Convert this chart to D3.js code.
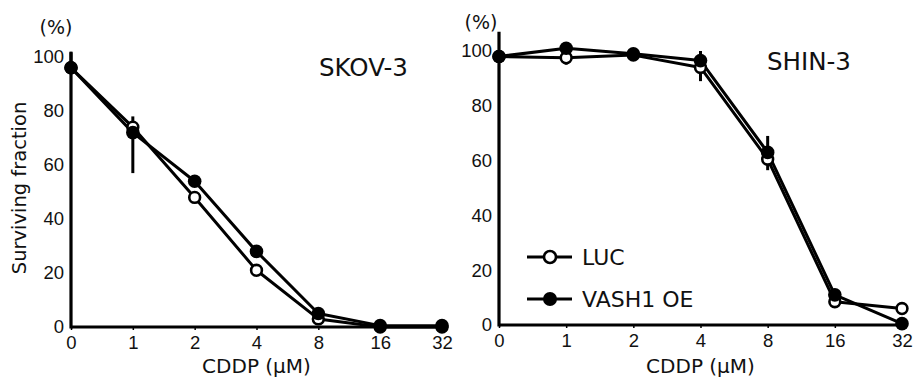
<!DOCTYPE html>
<html>
<head>
<meta charset="utf-8">
<script src="https://cdn.jsdelivr.net/npm/d3@7"></script>
<style>
  body { margin: 0; background: #fff; }
  svg { display: block; font-family: 'DejaVu Sans', Verdana, sans-serif; }
</style>
</head>
<body>
<div id="chart"></div>
<script>
const doses = ['0', '1', '2', '4', '8', '16', '32']
const yTicks = [0, 20, 40, 60, 80, 100]

// SKOV-3
const skovLuc = [96, 74, 48, 21, 3, 0, 0]
const skovVash = [96, 72, 54, 28, 5, 0.5, 0.5]
const skovVashErrUp = [6, 6, 0, 0, 0, 0, 0]
const skovVashErrDown = [0, 15, 0, 0, 0, 0, 0]
const skovLucErrUp = [0, 0, 0, 0, 0, 0, 0]
const skovLucErrDown = [0, 0, 0, 0, 0, 0, 0]

// SHIN-3
const shinLuc = [98, 97.5, 98.5, 94, 60.5, 8.5, 6]
const shinVash = [98, 101, 99, 96.5, 63, 11, 0.5]
const shinLucErrUp = [0, 0, 0, 0, 0, 0, 0]
const shinLucErrDown = [0, 2.5, 0, 5, 4, 0, 0]
const shinVashErrUp = [0, 0, 0, 3.5, 6, 0, 0]
const shinVashErrDown = [0, 0, 0, 0, 0, 0, 0]

const legendLabels = ['LUC', 'VASH1 OE']

const width = 921
const height = 378

const svg = d3.select('#chart').append('svg')
  .attr('width', width)
  .attr('height', height)

function drawPanel(opts) {
  const x = d3.scalePoint().domain(doses).range(opts.xRange)
  const y = d3.scaleLinear().domain([0, 100]).range(opts.yRange)
  const g = svg.append('g')

  // x axis
  const xAxis = g.append('g')
    .attr('transform', `translate(0,${y(0)})`)
    .call(d3.axisBottom(x).tickSize(3).tickPadding(6).tickSizeOuter(0))
  xAxis.select('.domain').remove()
  xAxis.selectAll('.tick line').attr('stroke', '#000').attr('stroke-width', 1.5)
  xAxis.selectAll('text').attr('font-size', 18.5).attr('fill', '#111').attr('font-family', null)

  g.append('line')
    .attr('x1', x('0')).attr('x2', opts.xAxisEnd)
    .attr('y1', y(0)).attr('y2', y(0))
    .attr('stroke', '#000').attr('stroke-width', 3.2)

  // y axis
  const yAxis = g.append('g')
    .attr('transform', `translate(${x('0')},0)`)
    .call(d3.axisLeft(y).tickValues(yTicks).tickSize(0).tickPadding(7))
  yAxis.select('.domain').remove()
  yAxis.selectAll('text').attr('font-size', 18.5).attr('fill', '#111').attr('font-family', null)

  g.append('line')
    .attr('x1', x('0')).attr('x2', x('0'))
    .attr('y1', y(0) + 1.5).attr('y2', y(opts.yAxisTop))
    .attr('stroke', '#000').attr('stroke-width', 3.2)

  g.append('text')
    .attr('x', opts.pctX).attr('y', opts.pctY)
    .attr('text-anchor', 'middle')
    .attr('font-size', 19).attr('fill', '#111')
    .text('(%)')

  g.append('text')
    .attr('x', opts.titleX).attr('y', opts.titleY)
    .attr('font-size', 24.5).attr('fill', '#111')
    .text(opts.title)

  g.append('text')
    .attr('x', (x('0') + x('32')) / 2).attr('y', 373)
    .attr('text-anchor', 'middle')
    .attr('font-size', 20).attr('fill', '#111')
    .text('CDDP (µM)')

  const series = [
    { values: opts.luc, up: opts.lucUp, down: opts.lucDown, fill: '#fff' },
    { values: opts.vash, up: opts.vashUp, down: opts.vashDown, fill: '#000' },
  ]

  const line = d3.line()
    .x((d, i) => x(doses[i]))
    .y((d) => y(d))

  series.forEach((s) => {
    const bars = s.values
      .map((v, i) => ({ dose: doses[i], v, up: s.up[i], down: s.down[i] }))
      .filter((d) => d.up > 0 || d.down > 0)
    g.append('g').selectAll('line')
      .data(bars)
      .join('line')
      .attr('x1', (d) => x(d.dose))
      .attr('x2', (d) => x(d.dose))
      .attr('y1', (d) => y(d.v + d.up))
      .attr('y2', (d) => y(d.v - d.down))
      .attr('stroke', '#000').attr('stroke-width', 3)
  })

  series.forEach((s) => {
    g.append('path')
      .datum(s.values)
      .attr('d', line)
      .attr('fill', 'none')
      .attr('stroke', '#000')
      .attr('stroke-width', 3)
      .attr('stroke-linejoin', 'round')
  })

  series.forEach((s) => {
    g.append('g').selectAll('circle')
      .data(s.values)
      .join('circle')
      .attr('cx', (d, i) => x(doses[i]))
      .attr('cy', (d) => y(d))
      .attr('r', s.fill === '#000' ? 6.8 : 5.4)
      .attr('fill', s.fill)
      .attr('stroke', '#000')
      .attr('stroke-width', s.fill === '#000' ? 0 : 2.6)
  })

  return { x, y, g }
}

drawPanel({
  xRange: [71, 442], yRange: [327, 57], xAxisEnd: 448, yAxisTop: 101.8,
  pctX: 56, pctY: 34, title: 'SKOV-3', titleX: 319, titleY: 76,
  luc: skovLuc, lucUp: skovLucErrUp, lucDown: skovLucErrDown,
  vash: skovVash, vashUp: skovVashErrUp, vashDown: skovVashErrDown,
})

drawPanel({
  xRange: [499, 902], yRange: [325, 51], xAxisEnd: 907, yAxisTop: 107,
  pctX: 481, pctY: 29, title: 'SHIN-3', titleX: 767, titleY: 70,
  luc: shinLuc, lucUp: shinLucErrUp, lucDown: shinLucErrDown,
  vash: shinVash, vashUp: shinVashErrUp, vashDown: shinVashErrDown,
})

svg.append('text')
  .attr('transform', 'translate(26,188) rotate(-90)')
  .attr('text-anchor', 'middle')
  .attr('font-size', 19.5).attr('fill', '#111')
  .text('Surviving fraction')

// legend
const legend = svg.append('g').attr('transform', 'translate(527,257)')
const legendRows = legend.selectAll('g')
  .data(legendLabels)
  .join('g')
  .attr('transform', (d, i) => `translate(0,${i * 42})`)

legendRows.append('line')
  .attr('x1', 0).attr('x2', 45)
  .attr('stroke', '#000').attr('stroke-width', 3)
legendRows.append('circle')
  .attr('cx', 23)
  .attr('r', (d, i) => (i === 0 ? 6 : 7))
  .attr('fill', (d, i) => (i === 0 ? '#fff' : '#000'))
  .attr('stroke', '#000')
  .attr('stroke-width', (d, i) => (i === 0 ? 2.6 : 0))
legendRows.append('text')
  .attr('x', 55).attr('y', 8)
  .attr('font-size', 22).attr('fill', '#111')
  .text((d) => d)
</script>
</body>
</html>
